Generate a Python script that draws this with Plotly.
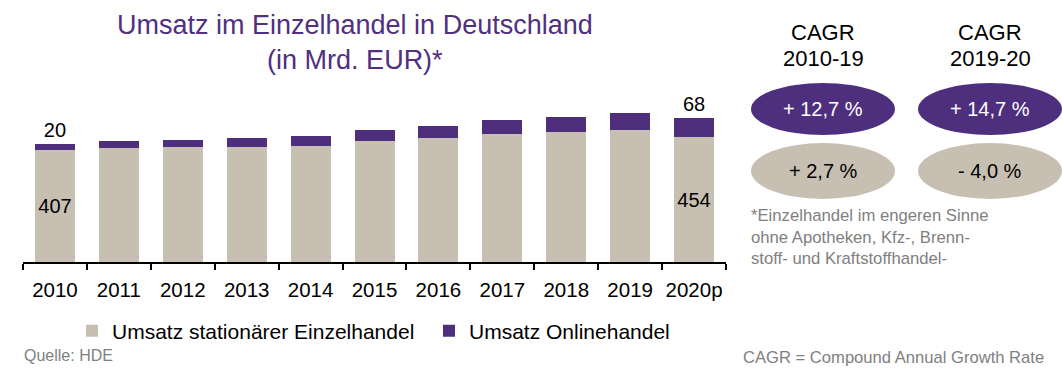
import plotly.graph_objects as go

years = ["2010", "2011", "2012", "2013", "2014", "2015", "2016", "2017", "2018", "2019", "2020p"]
stationaer = [407, 414, 418, 418, 421, 440, 450, 465, 472, 481, 454]
online = [20, 24, 26, 32, 36, 40, 44, 50, 54, 60, 68]
stationaer_labels = ["407", "", "", "", "", "", "", "", "", "", "454"]
online_labels = ["20", "", "", "", "", "", "", "", "", "", "68"]

cagr_line1 = ["CAGR", "CAGR"]
cagr_line2 = ["2010-19", "2019-20"]
cagr_online = ["+ 12,7 %", "+ 14,7 %"]
cagr_stationaer = ["+ 2,7 %", "- 4,0 %"]

PURPLE = "#4E2F7E"
BEIGE = "#C7BFB2"
FONT = "Liberation Sans, Arial, sans-serif"
W, H = 1062, 381

def px(x):
    return x / W

def py(y):
    return (H - y) / H

fig = go.Figure()
fig.add_trace(go.Bar(
    x=years, y=stationaer, name="Umsatz stationärer Einzelhandel",
    marker=dict(color=BEIGE, line=dict(width=0)),
    text=stationaer_labels, textposition="inside", insidetextanchor="middle",
    textfont=dict(family=FONT, size=20, color="black"), textangle=0,
    hoverinfo="x+y",
))
fig.add_trace(go.Bar(
    x=years, y=online, name="Umsatz Onlinehandel",
    marker=dict(color=PURPLE, line=dict(width=0)),
    text=online_labels, textposition="outside",
    textfont=dict(family=FONT, size=20, color="black"), textangle=0,
    cliponaxis=False, hoverinfo="x+y",
))

fig.update_layout(
    width=W, height=H,
    margin=dict(l=0, r=0, t=0, b=0),
    paper_bgcolor="white", plot_bgcolor="white",
    barmode="stack", bargap=0.374,
    font=dict(family=FONT, color="black"),
    showlegend=True,
    legend=dict(
        orientation="h", x=px(72), y=py(331), xanchor="left", yanchor="middle",
        font=dict(family=FONT, size=21, color="black"),
        entrywidth=312, itemwidth=30, bgcolor="rgba(0,0,0,0)",
        traceorder="normal",
    ),
    xaxis=dict(
        domain=[px(23), px(726)], automargin=False,
        showline=True, linecolor="black", linewidth=2,
        ticks="outside", tickson="boundaries", ticklen=6, tickwidth=2, tickcolor="black",
        tickfont=dict(family=FONT, size=20.5, color="black"), ticklabelstandoff=8,
        tickangle=0,
        showgrid=False, zeroline=False, fixedrange=True,
    ),
    yaxis=dict(
        domain=[py(262), py(100)], range=[0, 588.4], visible=False,
        automargin=False, fixedrange=True,
    ),
)

# Title
fig.add_annotation(
    xref="paper", yref="paper", x=px(355), y=py(43), xanchor="center", yanchor="middle",
    text="Umsatz im Einzelhandel in Deutschland<br>(in Mrd. EUR)*", showarrow=False,
    font=dict(family=FONT, size=27, color="#50307F"), align="center",
)

# CAGR blocks
centers = [823, 990]
for cx, l1, l2, on, st in zip(centers, cagr_line1, cagr_line2, cagr_online, cagr_stationaer):
    fig.add_annotation(
        xref="paper", yref="paper", x=px(cx), y=py(32), xanchor="center", yanchor="middle",
        text=l1, showarrow=False, font=dict(family=FONT, size=22, color="black"),
    )
    fig.add_annotation(
        xref="paper", yref="paper", x=px(cx), y=py(58), xanchor="center", yanchor="middle",
        text=l2, showarrow=False, font=dict(family=FONT, size=22, color="black"),
    )
    fig.add_shape(type="circle", xref="paper", yref="paper",
                  x0=px(cx - 72), x1=px(cx + 72), y0=py(135), y1=py(83),
                  fillcolor=PURPLE, line=dict(width=0), layer="above")
    fig.add_shape(type="circle", xref="paper", yref="paper",
                  x0=px(cx - 72), x1=px(cx + 72), y0=py(199), y1=py(143),
                  fillcolor=BEIGE, line=dict(width=0), layer="above")
    fig.add_annotation(
        xref="paper", yref="paper", x=px(cx), y=py(109), xanchor="center", yanchor="middle",
        text=on, showarrow=False, font=dict(family=FONT, size=20, color="white"),
    )
    fig.add_annotation(
        xref="paper", yref="paper", x=px(cx), y=py(171), xanchor="center", yanchor="middle",
        text=st, showarrow=False, font=dict(family=FONT, size=20, color="black"),
    )

# Footnote
fig.add_annotation(
    xref="paper", yref="paper", x=px(749), y=py(237), xanchor="left", yanchor="middle",
    text="*Einzelhandel im engeren Sinne<br>ohne Apotheken, Kfz-, Brenn-<br>stoff- und Kraftstoffhandel-",
    showarrow=False, align="left", font=dict(family=FONT, size=16.7, color="#808080"),
)

# Source and definition
fig.add_annotation(
    xref="paper", yref="paper", x=px(22), y=py(355), xanchor="left", yanchor="middle",
    text="Quelle: HDE", showarrow=False, font=dict(family=FONT, size=16, color="#808080"),
)
fig.add_annotation(
    xref="paper", yref="paper", x=px(1046), y=py(357), xanchor="right", yanchor="middle",
    text="CAGR = Compound Annual Growth Rate", showarrow=False,
    font=dict(family=FONT, size=16.6, color="#808080"),
)

fig.write_html("out.html", config={"displayModeBar": False},
               post_script="document.body.style.margin='0';")
